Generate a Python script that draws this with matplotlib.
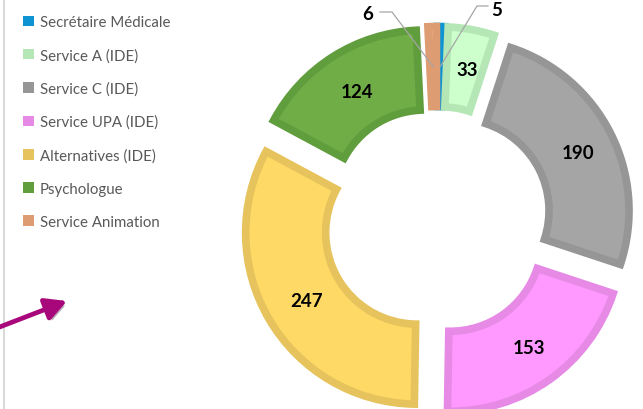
import numpy as np
import matplotlib.pyplot as plt
import matplotlib.patheffects as pe
from matplotlib.patches import Patch

# data
categories = ["Secrétaire Médicale", "Service A (IDE)", "Service C (IDE)",
              "Service UPA (IDE)", "Alternatives (IDE)", "Psychologue",
              "Service Animation"]
values = [5, 33, 190, 153, 247, 124, 6]
fill_colors = ["#1BA1E2", "#CCFFCC", "#A5A5A5", "#FF99FF", "#FFD966", "#70AD47", "#F4B183"]
edge_colors = ["#0E94D2", "#B5E6B5", "#969696", "#E68AE6", "#E6C35C", "#609D3C", "#DE9C72"]

plt.rcParams['font.family'] = ['Lato', 'DejaVu Sans']

fig = plt.figure(figsize=(6.43, 4.10), dpi=100)
ax = fig.add_axes([0, 0, 1, 1])

# donut geometry in pixel units, y axis pointing down
cx, cy = 437, 222
radius = 171.5
ring = 80
explode_px = 23

wedges, _ = ax.pie(values, colors=fill_colors, startangle=-90, counterclock=True,
                   center=(cx, cy), radius=radius,
                   explode=[explode_px] * len(values),
                   wedgeprops=dict(width=ring, linewidth=5.5, joinstyle='miter'),
                   frame=True)
for w, ec in zip(wedges, edge_colors):
    w.set_edgecolor(ec)

ax.set_xlim(0, 643)
ax.set_ylim(410, 0)
ax.set_aspect('equal')
ax.axis('off')

# value labels
outside = {5: ((477, 7), (488, 7), (497, 10)),
           6: ((392, 13), (380, 13), (368, 14))}
rmid = radius - ring / 2
for w, v in zip(wedges, values):
    mid = np.deg2rad((w.theta1 + w.theta2) / 2)
    px = w.center[0] + rmid * np.cos(mid)
    py = w.center[1] + rmid * np.sin(mid)
    if v in outside:
        elbow, end, tpos = outside[v]
        ax.plot([px, elbow[0], end[0]], [py, elbow[1], end[1]],
                color='#A6A6A6', lw=0.9, zorder=5)
        ax.text(tpos[0], tpos[1], str(v), ha='center', va='center',
                fontsize=13.5, fontweight='bold', color='black')
    else:
        ax.text(px + 3, py + 1, str(v), ha='center', va='center',
                fontsize=13.5, fontweight='bold', color='black')

# legend
handles = [Patch(facecolor=c, edgecolor='none') for c in edge_colors]
ax.legend(handles, categories, loc='upper left',
          bbox_to_anchor=(23 / 643, 1 - 16 / 410), bbox_transform=fig.transFigure,
          frameon=False, fontsize=10.8, labelcolor='#595959',
          handlelength=0.7, handleheight=0.7, handletextpad=0.4,
          labelspacing=1.27, borderpad=0, borderaxespad=0)

# left border line and arrow
ax.plot([4, 4], [0, 410], color='#D9D9D9', lw=1.5)
ax.annotate('', xy=(67, 302), xytext=(-3, 329),
            arrowprops=dict(arrowstyle='-|>,head_length=0.85,head_width=0.45',
                            mutation_scale=15, lw=3.4, color='#A8077C',
                            shrinkA=0, shrinkB=0,
                            path_effects=[pe.withSimplePatchShadow(offset=(2, -2), alpha=0.35)]))

fig.savefig("out.png", dpi=100)
